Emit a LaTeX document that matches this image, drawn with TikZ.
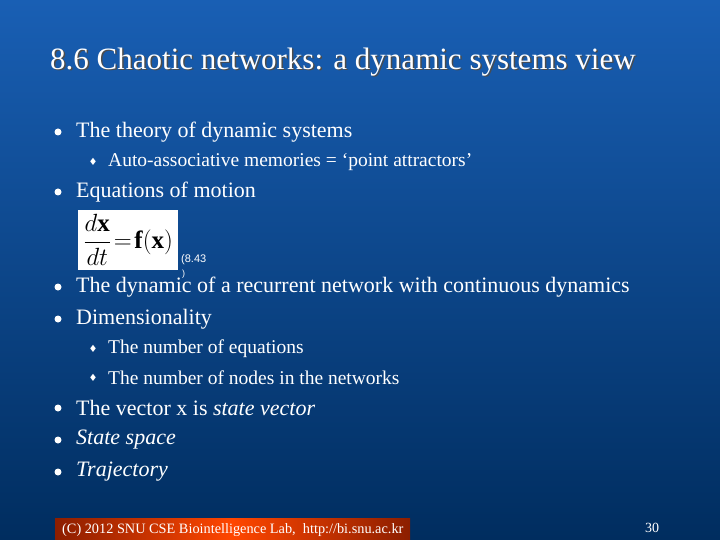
\documentclass[tikz,border=0pt]{standalone}
\usepackage{fontspec}
\setmainfont{Liberation Serif}
\newfontfamily\djv{DejaVu Sans}
\newfontfamily\sans{Liberation Sans}
\begin{document}
\begin{tikzpicture}[x=1pt,y=-1pt,
  txt/.style={anchor=west,text=white,font=\fontsize{22}{24}\selectfont,inner sep=0},
  sub/.style={anchor=west,text=white,font=\fontsize{19.5}{21}\selectfont,inner sep=0},
  bul/.style={circle,fill=white,inner sep=0,minimum size=7pt},
  dia/.style={text=white,font=\djv\fontsize{10}{10}\selectfont,inner sep=0}]
\shade[top color={rgb,255:red,25;green,95;blue,180},bottom color={rgb,255:red,0;green,45;blue,95}] (0,0) rectangle (720,540);
\useasboundingbox (0,0) rectangle (720,540);
\node[anchor=west,text=black!70,font=\fontsize{31}{33}\selectfont,inner sep=0] (ts) at (51.5,63.5) {8.6 Chaotic networks: a dynamic systems view};
\node[anchor=west,text=white,font=\fontsize{31}{33}\selectfont,inner sep=0] (t) at (50,62) {8.6 Chaotic networks: a dynamic systems view};
\node[bul] (b1) at (58,132) {}; \node[txt] (l1) at (76,132) {The theory of dynamic systems};
\node[dia] (d1) at (93,162) {♦}; \node[sub] (s1) at (108,162) {Auto-associative memories = ‘point attractors’};
\node[bul] (b2) at (58,192) {}; \node[txt] (l2) at (76,192) {Equations of motion};
\node[fill=white,minimum width=100pt,minimum height=60pt,inner sep=0,anchor=north west] (eq) at (78,210) {\fontsize{25}{26}\selectfont$\displaystyle\frac{d\mathbf{x}}{dt}\!=\!\mathbf{f}(\mathbf{x})$};
\node[anchor=west,text=white,font=\sans\fontsize{11}{12}\selectfont,inner sep=0] (n) at (181,260) {(8.43};
\node[anchor=west,text=white,font=\sans\fontsize{9}{10}\selectfont,inner sep=0] (n2) at (182,274) {)};
\node[bul] (b3) at (58,287) {}; \node[txt] (l3) at (76,287) {The dynamic of a recurrent network with continuous dynamics};
\node[bul] (b4) at (58,319) {}; \node[txt] (l4) at (76,319) {Dimensionality};
\node[dia] (d2) at (93,349) {♦}; \node[sub] (s2) at (108,349) {The number of equations};
\node[dia] (d3) at (93,378) {♦}; \node[sub] (s3) at (108,378) {The number of nodes in the networks};
\node[bul] (b5) at (58,408) {}; \node[txt] (l5) at (76,408) {The vector x is \textit{state vector}};
\node[bul] (b6) at (58,440) {}; \node[txt] (l6) at (76,440) {\textit{State space}};
\node[bul] (b7) at (58,472) {}; \node[txt] (l7) at (76,472) {\textit{Trajectory}};
\shade[left color={rgb,255:red,140;green,30;blue,0},right color={rgb,255:red,255;green,70;blue,0}] (55,518) rectangle (232,540);
\shade[left color={rgb,255:red,255;green,70;blue,0},right color={rgb,255:red,140;green,30;blue,0}] (232,518) rectangle (410,540);
\node[anchor=west,text=white,font=\fontsize{14.3}{15}\selectfont,inner sep=0] (f) at (62,530) {(C) 2012 SNU CSE Biointelligence Lab,\ \ http://bi.snu.ac.kr};
\node[text=white,font=\fontsize{14}{15}\selectfont,inner sep=0] (p) at (652,528) {30};
\end{tikzpicture}
\end{document}
